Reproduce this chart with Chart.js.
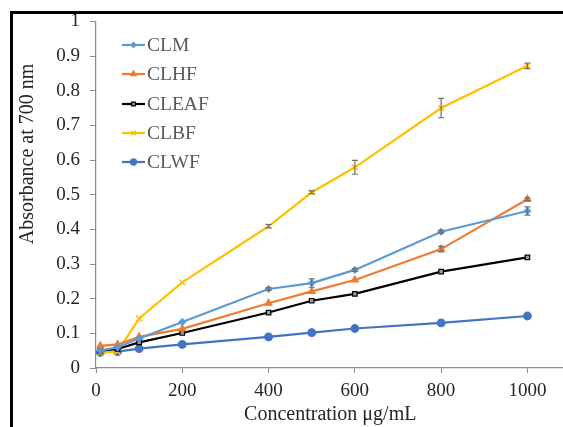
<!DOCTYPE html>
<html>
<head>
<meta charset="utf-8">
<script src="https://cdn.jsdelivr.net/npm/chart.js@4"></script>
<style>
    html, body { margin: 0; padding: 0; background: #fff; }
    #wrap { position: relative; width: 563px; height: 427px; overflow: hidden; }
    #frame { position: absolute; left: 10px; top: 11px; width: 600px; height: 500px;
             border-top: 3px solid #000; border-left: 3px solid #000; pointer-events: none; }
    canvas { position: absolute; left: 0; top: 0; }
</style>
</head>
<body>
<div id="wrap">
    <canvas id="chart" width="570" height="427"></canvas>
    <div id="frame"></div>
</div>
<script>
// Data
const concentrations = [10, 50, 100, 200, 400, 500, 600, 800, 1000];
const clm   = [0.050, 0.060, 0.085, 0.133, 0.228, 0.245, 0.283, 0.393, 0.453];
const clhf  = [0.064, 0.068, 0.090, 0.113, 0.187, 0.221, 0.254, 0.343, 0.487];
const cleaf = [0.050, 0.055, 0.074, 0.101, 0.160, 0.194, 0.214, 0.278, 0.319];
const clbf  = [0.045, 0.047, 0.143, 0.247, 0.409, 0.507, 0.579, 0.750, 0.872];
const clwf  = [0.045, 0.047, 0.056, 0.068, 0.090, 0.102, 0.114, 0.130, 0.150];

// Error bars (± value) per series
const clmErr   = [0, 0, 0, 0, 0.004, 0.012, 0.004, 0.004, 0.012];
const clhfErr  = [0, 0, 0, 0, 0, 0, 0, 0.008, 0.004];
const cleafErr = [0, 0, 0, 0, 0, 0, 0, 0, 0];
const clbfErr  = [0, 0, 0, 0, 0.005, 0.004, 0.02, 0.028, 0.008];
const clwfErr  = [0, 0, 0, 0, 0, 0, 0, 0, 0];

const yTicks = [0, 0.1, 0.2, 0.3, 0.4, 0.5, 0.6, 0.7, 0.8, 0.9, 1];
const xTicks = [0, 200, 400, 600, 800, 1000];
const yTitle = 'Absorbance at 700 nm';

const serif = "'Liberation Serif', 'DejaVu Serif', serif";
const axisGray = '#8c8c8c';
const textDark = '#262626';

function toPoints(values) {
    return values.map((v, i) => ({ x: concentrations[i], y: v }));
}

function makeSet(label, values, errs, color, style, radius, fill) {
    return {
        label: label,
        data: toPoints(values),
        errors: errs,
        borderColor: color,
        backgroundColor: fill || color,
        pointBorderColor: color,
        pointBackgroundColor: fill || color,
        pointStyle: style,
        pointRadius: radius,
        pointBorderWidth: style === 'crossRot' ? 1.5 : 1.2,
        borderWidth: 2.2,
        tension: 0,
        fill: false
    };
}

// Error bars drawn through the scales
const errorBars = {
    id: 'errorBars',
    afterDatasetsDraw(chart) {
        const { ctx, scales: { x, y } } = chart;
        ctx.save();
        ctx.strokeStyle = '#6e6e6e';
        ctx.lineWidth = 1.2;
        chart.data.datasets.forEach(ds => {
            ds.data.forEach((p, i) => {
                const e = ds.errors[i];
                if (!e) return;
                const px = x.getPixelForValue(p.x);
                const top = y.getPixelForValue(p.y + e);
                const bot = y.getPixelForValue(p.y - e);
                ctx.beginPath();
                ctx.moveTo(px, top); ctx.lineTo(px, bot);
                ctx.moveTo(px - 3, top); ctx.lineTo(px + 3, top);
                ctx.moveTo(px - 3, bot); ctx.lineTo(px + 3, bot);
                ctx.stroke();
            });
        });
        ctx.restore();
    }
};

// Legend inside the plot, top left, one row per series; y title sits above centre like the original
const innerLegend = {
    id: 'innerLegend',
    afterDraw(chart) {
        const ctx = chart.ctx;
        const x0 = 122, x1 = 145, textX = 147;
        const rows = [45, 74, 104, 133, 162];
        ctx.save();
        ctx.font = '19.5px ' + serif;
        ctx.textBaseline = 'middle';
        chart.data.datasets.forEach((ds, i) => {
            const yy = rows[i];
            ctx.strokeStyle = ds.borderColor;
            ctx.lineWidth = 2.2;
            ctx.beginPath();
            ctx.moveTo(x0, yy); ctx.lineTo(x1, yy);
            ctx.stroke();
            ctx.fillStyle = ds.pointBackgroundColor;
            ctx.strokeStyle = ds.pointBorderColor;
            ctx.lineWidth = ds.pointBorderWidth;
            Chart.helpers.drawPoint(ctx, { pointStyle: ds.pointStyle, radius: ds.pointRadius * 0.8, borderWidth: ds.pointBorderWidth }, (x0 + x1) / 2, yy);
            ctx.fillStyle = '#595959';
            ctx.fillText(ds.label, textX, yy + 1);
        });

        // y axis title
        ctx.translate(28, 154);
        ctx.rotate(-Math.PI / 2);
        ctx.font = '20px ' + serif;
        ctx.textAlign = 'center';
        ctx.fillStyle = textDark;
        ctx.fillText(yTitle, 0, 0);
        ctx.restore();
    }
};

const ctx = document.getElementById('chart').getContext('2d');
const chart = new Chart(ctx, {
    type: 'line',
    data: {
        datasets: [
            makeSet('CLM', clm, clmErr, '#5B9BD5', 'rectRot', 3.2),
            makeSet('CLHF', clhf, clhfErr, '#ED7D31', 'triangle', 4),
            makeSet('CLEAF', cleaf, cleafErr, '#000000', 'rect', 3.2, '#9a9a9a'),
            makeSet('CLBF', clbf, clbfErr, '#FFC000', 'crossRot', 4),
            makeSet('CLWF', clwf, clwfErr, '#4472C4', 'circle', 3.8)
        ]
    },
    options: {
        responsive: false,
        animation: false,
        layout: { padding: { top: 21, right: 0, left: 0, bottom: 0 } },
        plugins: {
            legend: { display: false },
            tooltip: { enabled: false }
        },
        scales: {
            x: {
                type: 'linear',
                min: 0,
                max: 1086,
                afterBuildTicks: s => { s.ticks = xTicks.map(v => ({ value: v })); },
                afterFit: s => { s.height = 59; },
                border: { color: axisGray, width: 1.2 },
                grid: { drawOnChartArea: false, drawTicks: true, tickLength: 5, color: axisGray },
                ticks: {
                    color: textDark,
                    font: { family: serif, size: 19 },
                    padding: 7,
                    maxRotation: 0,
                    callback: v => String(v)
                },
                title: {
                    display: true,
                    text: 'Concentration μg/mL',
                    color: textDark,
                    font: { family: serif, size: 20 },
                    padding: { top: 0, bottom: 0 }
                }
            },
            y: {
                min: 0,
                max: 1,
                afterBuildTicks: s => { s.ticks = yTicks.map(v => ({ value: v })); },
                afterFit: s => { s.width = 96; },
                border: { color: axisGray, width: 1.2 },
                grid: { drawOnChartArea: false, drawTicks: true, tickLength: 6, color: axisGray },
                ticks: {
                    color: textDark,
                    font: { family: serif, size: 19 },
                    padding: 10,
                    callback: v => String(Math.round(v * 10) / 10)
                }
            }
        }
    },
    plugins: [errorBars, innerLegend]
});
</script>
</body>
</html>
